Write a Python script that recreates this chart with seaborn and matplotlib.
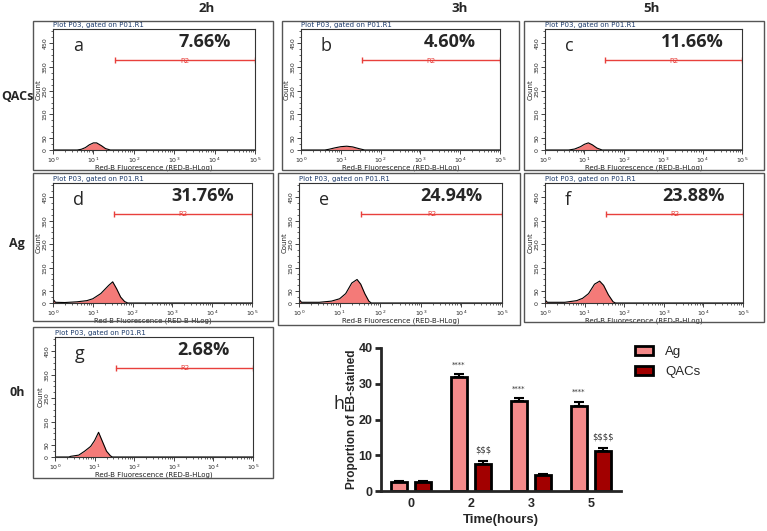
import matplotlib
matplotlib.use("Agg")
import matplotlib.pyplot as plt
from matplotlib.patches import Rectangle, Patch
from matplotlib.ticker import FixedLocator, MultipleLocator
import numpy as np
import pandas as pd
import seaborn as sns

sns.set_style("ticks")
plt.rcParams['font.family'] = ['DejaVu Sans']

# ---- data ----
panel_letters = ['a', 'b', 'c', 'd', 'e', 'f', 'g']
panel_pcts = ['7.66%', '4.60%', '11.66%', '31.76%', '24.94%', '23.88%', '2.68%']
col_labels = ['2h', '3h', '5h']
row_labels = ['QACs', 'Ag', '0h']

# histogram outlines: (log10 fluorescence, count)
hist_a = [(0, 0), (0.6, 0), (0.7, 3), (0.8, 10), (0.9, 22), (1.0, 30), (1.08, 30), (1.2, 18), (1.3, 6), (1.42, 0), (5, 0)]
hist_b = [(0, 0), (0.6, 0), (0.7, 3), (0.85, 9), (1.0, 14), (1.15, 16), (1.3, 13), (1.45, 6), (1.6, 0), (5, 0)]
hist_c = [(0, 0), (0.6, 0), (0.75, 4), (0.9, 14), (1.0, 24), (1.1, 30), (1.2, 22), (1.32, 8), (1.45, 0), (5, 0)]
hist_d = [(0, 0), (0.02, 12), (0.06, 3), (0.3, 2), (0.6, 5), (0.85, 10), (1.0, 18), (1.2, 40), (1.4, 75), (1.5, 90),
          (1.6, 60), (1.7, 25), (1.8, 6), (1.88, 0), (5, 0)]
hist_e = [(0, 0), (0.02, 12), (0.06, 3), (0.5, 3), (0.8, 8), (1.0, 18), (1.15, 40), (1.3, 85), (1.43, 100), (1.52, 80),
          (1.62, 40), (1.72, 8), (1.78, 0), (5, 0)]
hist_f = [(0, 0), (0.02, 10), (0.06, 3), (0.5, 3), (0.8, 10), (0.95, 20), (1.1, 40), (1.25, 80), (1.38, 93), (1.48, 75),
          (1.6, 35), (1.72, 5), (1.78, 0), (5, 0)]
hist_g = [(0, 0), (0.35, 0), (0.4, 3), (0.6, 8), (0.75, 25), (0.9, 45), (1.0, 70), (1.1, 105), (1.2, 65), (1.3, 25),
          (1.4, 5), (1.45, 0), (5, 0)]
hists = [hist_a, hist_b, hist_c, hist_d, hist_e, hist_f, hist_g]
gate_range = (10 ** 1.53, 1e5)
gate_level = 380

# bar chart h
times = ['0', '2', '3', '5']
ag_vals = [2.5, 32.0, 25.2, 23.8]
ag_err = [0.3, 0.6, 0.8, 1.2]
qacs_vals = [2.5, 7.6, 4.4, 11.3]
qacs_err = [0.3, 0.7, 0.4, 0.8]
ag_marks = ['', '****', '****', '****']
qacs_marks = ['', '$$$', '', '$$$$']

W, H = 767, 531
fig = plt.figure(figsize=(W / 100, H / 100), dpi=100)


def px_axes(x0, y0, x1, y1):
    return fig.add_axes([x0 / W, 1 - y1 / H, (x1 - x0) / W, (y1 - y0) / H])


def px_box(x0, y0, x1, y1):
    fig.patches.append(Rectangle((x0 / W, 1 - y1 / H), (x1 - x0) / W, (y1 - y0) / H,
                                 transform=fig.transFigure, fill=False, edgecolor='#555555', lw=1.0))


# outer boxes and inner axes, in pixels
outer = [(33, 21, 273, 170), (282, 21, 519, 170), (524, 21, 764, 170),
         (33, 173, 273, 321), (278, 173, 520, 325), (524, 173, 764, 322),
         (33, 327, 273, 478)]
inner = [(53, 29, 255, 150), (301, 29, 500, 150), (545, 29, 742, 150),
         (53, 183, 252, 303), (299, 183, 502, 303), (545, 183, 743, 303),
         (55, 337, 253, 457)]

for i in range(7):
    px_box(*outer[i])
    ax = px_axes(*inner[i])
    pts = np.array(hists[i])
    xs = 10 ** pts[:, 0]
    ax.fill_between(xs, 0, pts[:, 1], color='#F47A78', lw=0)
    sns.lineplot(x=xs, y=pts[:, 1], ax=ax, color='black', lw=0.8)
    ax.set_xscale('log')
    ax.set_xlim(1, 1e5)
    ax.set_ylim(0, 510)
    ax.yaxis.set_major_locator(FixedLocator([0, 50, 150, 250, 350, 450]))
    ax.yaxis.set_minor_locator(MultipleLocator(25))
    ax.tick_params(axis='both', which='major', labelsize=4.5, length=3, width=0.6, pad=0.8)
    ax.tick_params(axis='both', which='minor', length=1.5, width=0.5)
    for lab in ax.get_yticklabels():
        lab.set_rotation(90)
        lab.set_va('center')
    for s in ax.spines.values():
        s.set_linewidth(0.8)
        s.set_color('#333333')
    ax.set_ylabel('Count', fontsize=5, labelpad=0.5)
    ax.set_xlabel('Red-B Fluorescence (RED-B-HLog)', fontsize=5, labelpad=0, color='#222222')
    ax.set_title('Plot P03, gated on P01.R1', fontsize=5, loc='left', pad=1.2, color='#1d3b6b')
    # gate R2
    ax.plot(gate_range, [gate_level, gate_level], color='#E8403C', lw=1.0)
    ax.plot(gate_range, [gate_level, gate_level], color='#E8403C', lw=0, marker='|', ms=5, mew=1.0)
    ax.text(10 ** 3.27, gate_level - 3, 'R2', color='#E8403C', fontsize=5, ha='center', va='center')
    ax.text(0.1, 0.86, panel_letters[i], transform=ax.transAxes, fontsize=13, family='Open Sans',
            ha='left', va='center')
    ax.text(0.75, 0.89, panel_pcts[i], transform=ax.transAxes, fontsize=13, family='Open Sans',
            fontweight='bold', ha='center', va='center')

# column and row headers
for lab, x in zip(col_labels, [207, 460, 651]):
    fig.text(x / W, 1 - 9 / H, lab, fontsize=9.5, fontweight='bold', family='Open Sans', ha='center', va='center')
for lab, y in zip(row_labels, [96, 244, 393]):
    fig.text(17 / W, 1 - y / H, lab, fontsize=9, fontweight='bold', family='Open Sans', ha='center', va='center')

# ---- bar chart h ----
df = pd.DataFrame({
    'time': times * 2,
    'value': ag_vals + qacs_vals,
    'group': ['Ag'] * 4 + ['QACs'] * 4,
})
colors = {'Ag': '#F58A8A', 'QACs': '#A20000'}
axh = px_axes(381, 348, 621, 491)
sns.barplot(data=df, x='time', y='value', hue='group', palette=colors, width=0.8, gap=0.35, saturation=1,
            edgecolor='black', linewidth=2, errorbar=None, legend=False, ax=axh)

for cont, errs, marks in zip(axh.containers, [ag_err, qacs_err], [ag_marks, qacs_marks]):
    for bar, e, m in zip(cont.patches, errs, marks):
        cx = bar.get_x() + bar.get_width() / 2
        top = bar.get_height()
        axh.errorbar(cx, top, yerr=[[0], [e]], color='black', capsize=3.5, elinewidth=1.5, capthick=1.5)
        if m:
            axh.text(cx, top + e + 1.8, m, ha='center', va='bottom', fontsize=5 if m.startswith('*') else 6,
                     color='#333333', parse_math=False)

axh.set_xlim(-0.5, 3.5)
axh.set_ylim(0, 40)
axh.set_yticks([0, 10, 20, 30, 40])
sns.despine(ax=axh)
for s in ['left', 'bottom']:
    axh.spines[s].set_linewidth(2)
axh.tick_params(axis='both', labelsize=9, width=2, length=4, pad=2)
axh.tick_params(axis='x', length=0, pad=5)
for lab in axh.get_xticklabels() + axh.get_yticklabels():
    lab.set_fontweight('bold')
    lab.set_family('Liberation Sans')
axh.set_xlabel('Time(hours)', fontsize=9.5, fontweight='bold', family='Liberation Sans', labelpad=3)
axh.set_ylabel('Proportion of EB-stained', fontsize=8.5, fontweight='bold', family='Liberation Sans')
axh.yaxis.set_label_coords(-0.095, 0.5)
fig.text(339 / W, 1 - 404 / H, 'h', fontsize=13, family='Open Sans', ha='center', va='center')

handles = [Patch(facecolor=colors[g], edgecolor='black', lw=2) for g in ['Ag', 'QACs']]
fig.legend(handles, ['Ag', 'QACs'], loc='upper left', bbox_to_anchor=(623 / W, 1 - 334 / H),
           frameon=False, prop={'family': 'Liberation Sans', 'size': 9.5}, handlelength=1.4,
           handleheight=0.7, handletextpad=0.9, labelspacing=0.6)

fig.savefig('out.png', dpi=100)
